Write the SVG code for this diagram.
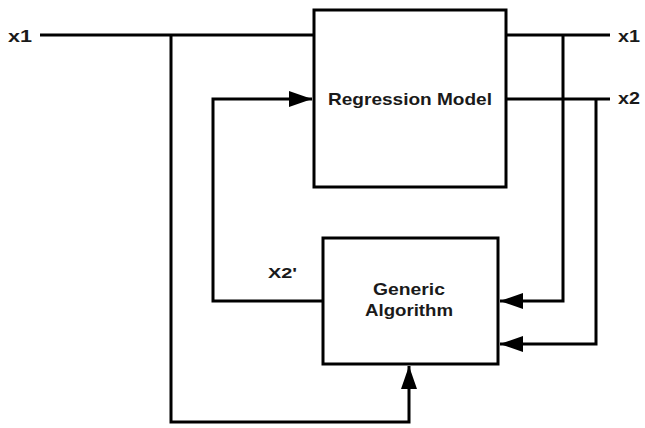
<svg xmlns="http://www.w3.org/2000/svg" width="645" height="428" viewBox="0 0 645 428">
<style>
.box{fill:#fff;stroke:#000;stroke-width:3}
.ln{fill:none;stroke:#000;stroke-width:3;stroke-linejoin:miter}
.t{font-family:"Liberation Sans",Arial,sans-serif;font-weight:bold;fill:#1a1a1a}
</style>
<defs>
<marker id="ah" markerUnits="userSpaceOnUse" markerWidth="24" markerHeight="18" refX="23" refY="8" orient="auto">
<path d="M0,0 L23,8 L0,16 Z" fill="#000"/>
</marker>
</defs>
<rect width="645" height="428" fill="#fff"/>
<g id="connectors">
<line class="ln" x1="40" y1="35" x2="314" y2="35"/>
<path class="ln" d="M171,35 V422 H409 V366" marker-end="url(#ah)"/>
<path class="ln" d="M323,301 H213 V99 H312" marker-end="url(#ah)"/>
<line class="ln" x1="506" y1="35" x2="610" y2="35"/>
<line class="ln" x1="506" y1="99" x2="610" y2="99"/>
<path class="ln" d="M563,35 V301 H500" marker-end="url(#ah)"/>
<path class="ln" d="M596,99 V344 H500" marker-end="url(#ah)"/>
</g>
<g id="regression">
<rect class="box" x="314" y="10" width="192" height="177"/>
<text class="t" x="328" y="105" font-size="17" textLength="164" lengthAdjust="spacingAndGlyphs">Regression Model</text>
</g>
<g id="generic">
<rect class="box" x="323" y="238" width="175" height="126"/>
<text class="t" x="373" y="295" font-size="16" textLength="72" lengthAdjust="spacingAndGlyphs">Generic</text>
<text class="t" x="365" y="316" font-size="16" textLength="88" lengthAdjust="spacingAndGlyphs">Algorithm</text>
</g>
<g id="labels">
<text class="t" x="8" y="42" font-size="17" textLength="24" lengthAdjust="spacingAndGlyphs">x1</text>
<text class="t" x="618" y="42" font-size="17" textLength="22" lengthAdjust="spacingAndGlyphs">x1</text>
<text class="t" x="618" y="104" font-size="17" textLength="22" lengthAdjust="spacingAndGlyphs">x2</text>
<text class="t" x="268" y="278" font-size="14" textLength="29" lengthAdjust="spacingAndGlyphs">X2'</text>
</g>
</svg>
